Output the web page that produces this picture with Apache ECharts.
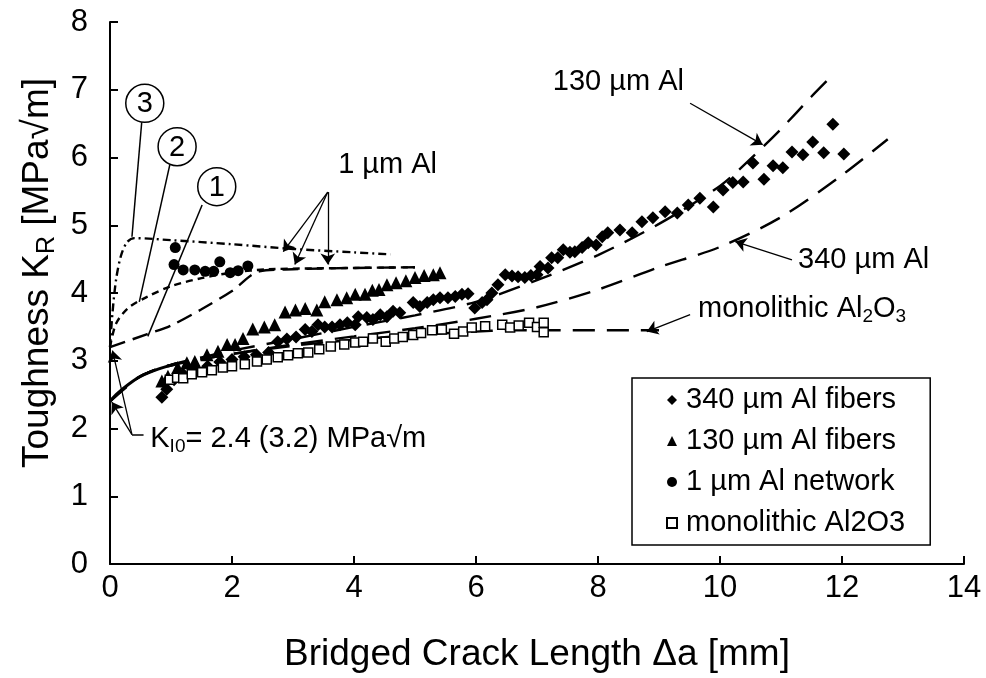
<!DOCTYPE html>
<html lang="en">
<head>
    <meta charset="UTF-8">
    <title>R-curves</title>
    <script src="https://cdn.jsdelivr.net/npm/echarts@6/dist/echarts.min.js"></script>
    <style>body { margin: 0; background: #fff; }</style>
</head>
<body>
    <div id="main" style="width: 986px; height: 678px;"></div>

    <script type="text/javascript">
        // axis ticks
        let xTicks = [0, 14, 2]
        let yTicks = [0, 8, 1]

        // measured points
        let fibers340 = [[0.85,2.46],[0.93,2.58],[1.05,2.72],[1.2,2.8],[1.4,2.86],[1.6,2.92],[1.8,2.98],[2.0,3.02],[2.2,3.06],[2.4,3.09],[2.6,3.12],[2.75,3.28],[2.9,3.32],[3.05,3.35],[3.2,3.46],[3.31,3.43],[3.41,3.53],[3.52,3.5],[3.64,3.5],[3.77,3.53],[3.89,3.56],[4.02,3.53],[4.07,3.65],[4.21,3.64],[4.31,3.61],[4.43,3.68],[4.54,3.65],[4.64,3.73],[4.75,3.71],[4.97,3.86],[5.08,3.8],[5.2,3.86],[5.3,3.9],[5.41,3.93],[5.54,3.93],[5.66,3.95],[5.77,3.98],[5.87,3.99],[5.98,3.78],[6.1,3.86],[6.18,3.9],[6.26,4.0],[6.36,4.12],[6.48,4.27],[6.59,4.25],[6.69,4.24],[6.8,4.23],[6.9,4.26],[7.0,4.27],[7.05,4.39],[7.18,4.37],[7.24,4.52],[7.34,4.52],[7.43,4.64],[7.54,4.6],[7.62,4.61],[7.74,4.67],[7.84,4.74],[7.97,4.71],[8.07,4.83],[8.16,4.89],[8.36,4.93],[8.56,4.89],[8.72,5.05],[8.9,5.11],[9.1,5.2],[9.3,5.18],[9.48,5.3],[9.67,5.4],[9.89,5.27],[10.05,5.52],[10.21,5.63],[10.38,5.64],[10.54,5.92],[10.72,5.68],[10.87,5.88],[11.03,5.85],[11.18,6.08],[11.36,6.04],[11.52,6.23],[11.7,6.07],[11.85,6.49],[12.03,6.05]]
        let fibers130 = [[0.85,2.7],[0.95,2.77],[1.11,2.9],[1.26,2.97],[1.39,2.99],[1.59,3.09],[1.77,3.14],[1.92,3.24],[2.05,3.24],[2.18,3.33],[2.34,3.47],[2.53,3.5],[2.7,3.53],[2.87,3.72],[3.04,3.75],[3.2,3.77],[3.39,3.75],[3.52,3.87],[3.72,3.9],[3.88,3.93],[4.02,3.98],[4.18,3.98],[4.3,4.04],[4.41,4.05],[4.54,4.12],[4.69,4.15],[4.85,4.18],[5.0,4.23],[5.15,4.26],[5.3,4.27],[5.41,4.3]]
        let network1 = [[1.05,4.42],[1.07,4.67],[1.2,4.34],[1.39,4.34],[1.56,4.32],[1.7,4.32],[1.8,4.46],[1.97,4.3],[2.1,4.33],[2.26,4.4]]
        let monolithic = [[0.98,2.72],[1.1,2.75],[1.2,2.74],[1.34,2.8],[1.51,2.83],[1.67,2.86],[1.85,2.9],[2.0,2.92],[2.21,2.95],[2.41,2.99],[2.57,3.02],[2.75,3.05],[2.92,3.08],[3.08,3.11],[3.25,3.12],[3.43,3.17],[3.62,3.21],[3.84,3.24],[4.02,3.27],[4.15,3.28],[4.31,3.33],[4.52,3.28],[4.66,3.33],[4.8,3.35],[4.97,3.38],[5.1,3.41],[5.28,3.45],[5.44,3.46],[5.64,3.4],[5.79,3.43],[5.93,3.49],[6.15,3.51],[6.43,3.53],[6.56,3.49],[6.7,3.52],[6.87,3.56],[7.0,3.5],[7.11,3.56],[7.11,3.42]]

        // model curves
        let curveStart = [[0,2.4],[0.1,2.5],[0.3,2.65],[0.5,2.77],[0.8,2.88],[1.1,2.96]]
        let curve130 = [[0,2.4],[0.5,2.77],[1,2.94],[1.5,3.05],[2,3.15],[3,3.32],[4,3.5],[5,3.67],[6,3.87],[7,4.19],[8,4.56],[9,5.02],[10,5.58],[10.5,5.98],[11,6.42],[11.5,6.9],[11.85,7.22]]
        let curve340 = [[0,2.4],[0.5,2.77],[1,2.94],[1.5,3.02],[2,3.1],[3,3.24],[4,3.36],[5,3.48],[6,3.62],[7,3.79],[8,4.05],[9,4.38],[10,4.68],[11,5.12],[12,5.74],[12.75,6.27]]
        let curveMono = [[0,2.4],[0.5,2.77],[1,2.93],[2,3.1],[3,3.22],[4,3.31],[5,3.38],[6,3.43],[6.5,3.45],[9,3.45]]
        let curveNet1 = [[0,3.2],[0.6,3.39],[1,3.52],[1.5,3.76],[2,4.03],[2.45,4.32],[3,4.35],[4,4.37],[5,4.38]]
        let curveNet2 = [[0,3.2],[0.1,3.55],[0.3,3.78],[0.6,3.94],[1,4.1],[1.5,4.22],[2,4.3],[2.6,4.35],[4,4.37],[5,4.38]]
        let curveNet3 = [[0,3.2],[0.04,3.7],[0.1,4.2],[0.18,4.55],[0.28,4.75],[0.4,4.81],[1,4.78],[2,4.72],[3,4.65],[4,4.6],[4.6,4.57]]

        let font = 'Liberation Sans, Arial, sans-serif'

        // annotation arrows and leaders (data coords)
        let arrows = [
            [[9.51,6.8],[10.7,6.19]],
            [[11.18,4.49],[10.25,4.76]],
            [[9.51,3.68],[8.8,3.43]],
            [[3.57,5.49],[2.84,4.61]],
            [[3.57,5.49],[3.03,4.42]],
            [[3.57,5.49],[3.57,4.42]],
            [[0.36,1.91],[0.03,2.39]],
            [[0.36,1.91],[0.04,3.15]]
        ]
        let leaders = [
            [[0.52,6.52],[0.36,4.83]],
            [[0.98,5.89],[0.48,3.87]],
            [[1.51,5.3],[0.62,3.36]],
            [[0.36,1.91],[0.55,1.91]]
        ]

        let myChart = echarts.init(document.getElementById('main'))

        function dashed(name, data, dash, width) {
            return {
                name: name, type: 'line', data: data, smooth: 0.3,
                showSymbol: false, silent: true, z: 1,
                lineStyle: {color: '#000', width: width || 2.4, type: dash}
            }
        }

        function pts(name, data, symbol, size, filled) {
            return {
                name: name, type: 'scatter', data: data, symbol: symbol, symbolSize: size, z: 3,
                itemStyle: filled
                    ? {color: '#000', opacity: 1}
                    : {color: '#fff', borderColor: '#000', borderWidth: 1.5, opacity: 1}
            }
        }

        let options = {
            animation: false,
            textStyle: {fontFamily: font},
            grid: {left: 110, right: 22, top: 22, bottom: 113},
            xAxis: {
                type: 'value', min: xTicks[0], max: xTicks[1], interval: xTicks[2],
                name: 'Bridged Crack Length Δa [mm]', nameLocation: 'middle', nameGap: 72,
                nameTextStyle: {fontSize: 37, color: '#000', fontFamily: font},
                axisLine: {lineStyle: {color: '#000', width: 2}},
                axisTick: {inside: true, length: 8, lineStyle: {color: '#000', width: 2}},
                axisLabel: {fontSize: 31, color: '#000', margin: 9, fontFamily: font},
                splitLine: {show: false}
            },
            yAxis: {
                type: 'value', min: yTicks[0], max: yTicks[1], interval: yTicks[2],
                name: '{a|Toughness K}{s|R}{a| [MPa√m]}', nameLocation: 'middle', nameGap: 46,
                nameTextStyle: {
                    color: '#000', fontFamily: font, padding: [0, 0, 0, 40],
                    rich: {
                        a: {fontSize: 37, lineHeight: 44, color: '#000', fontFamily: font},
                        s: {fontSize: 25, lineHeight: 20, verticalAlign: 'bottom', color: '#000', fontFamily: font}
                    }
                },
                axisLine: {lineStyle: {color: '#000', width: 2}},
                axisTick: {inside: true, length: 8, lineStyle: {color: '#000', width: 2}},
                axisLabel: {fontSize: 31, color: '#000', margin: 22, fontFamily: font},
                splitLine: {show: false}
            },
            legend: {
                orient: 'vertical', left: 632, top: 378,
                data: ['340 µm Al fibers', '130 µm Al fibers', '1 µm Al network', 'monolithic Al2O3'],
                borderColor: '#000', borderWidth: 1.5, borderRadius: 0,
                padding: [7, 25, 7, 34], itemGap: 11, itemWidth: 10, itemHeight: 10,
                textStyle: {fontSize: 29, lineHeight: 30, color: '#000', fontFamily: font, padding: [0, 0, 0, 4]}
            },
            series: [
                {name: 'start', type: 'line', data: curveStart, smooth: 0.3, showSymbol: false, silent: true,
                 lineStyle: {color: '#000', width: 3}},
                dashed('130 µm Al', curve130, [22, 12]),
                dashed('340 µm Al', curve340, [22, 12]),
                dashed('monolithic', curveMono, [22, 12]),
                dashed('1 µm Al (1)', curveNet1, [16, 8]),
                dashed('1 µm Al (2)', curveNet2, [7, 5]),
                dashed('1 µm Al (3)', curveNet3, [8, 4, 2, 4]),
                pts('340 µm Al fibers', fibers340, 'diamond', 13, true),
                pts('130 µm Al fibers', fibers130, 'triangle', 13, true),
                pts('1 µm Al network', network1, 'circle', 11, true),
                pts('monolithic Al2O3', monolithic, 'rect', 9, false),
                {
                    name: 'arrows', type: 'line', data: [], silent: true,
                    markLine: {
                        silent: true, symbol: ['none', 'arrow'], symbolSize: 11,
                        label: {show: false},
                        lineStyle: {color: '#000', width: 1.3, type: 'solid'},
                        data: arrows.map(a => [{coord: a[0]}, {coord: a[1]}])
                    }
                },
                {
                    name: 'leaders', type: 'line', data: [], silent: true,
                    markLine: {
                        silent: true, symbol: ['none', 'none'],
                        label: {show: false},
                        lineStyle: {color: '#000', width: 1.5, type: 'solid'},
                        data: leaders.map(a => [{coord: a[0]}, {coord: a[1]}])
                    }
                }
            ]
        }

        myChart.setOption(options)

        // text annotations placed in data coords
        function px(p) {
            return myChart.convertToPixel({xAxisIndex: 0, yAxisIndex: 0}, p)
        }
        let sub = {
            a: {fontSize: 29, lineHeight: 34, fill: '#000', fontFamily: font},
            s: {fontSize: 19, lineHeight: 16, verticalAlign: 'bottom', fill: '#000', fontFamily: font}
        }
        function label(p, text) {
            let q = px(p)
            return {type: 'text', x: q[0], y: q[1], z: 10,
                    style: {text: text, rich: sub, fill: '#000', verticalAlign: 'middle', align: 'left'}}
        }
        function circled(p, n) {
            let q = px(p)
            return [
                {type: 'circle', shape: {cx: q[0], cy: q[1], r: 19}, z: 10,
                 style: {fill: '#fff', stroke: '#000', lineWidth: 1.5}},
                {type: 'text', x: q[0], y: q[1] + 1, z: 11,
                 style: {text: n, font: '29px ' + font, fill: '#000', align: 'center', verticalAlign: 'middle'}}
            ]
        }

        myChart.setOption({
            graphic: [
                label([7.26, 7.11], '{a|130 µm Al}'),
                label([11.28, 4.49], '{a|340 µm Al}'),
                label([9.64, 3.76], '{a|monolithic Al}{s|2}{a|O}{s|3}'),
                label([3.74, 5.89], '{a|1 µm Al}'),
                label([0.66, 1.84], '{a|K}{s|I0}{a|= 2.4 (3.2) MPa√m}'),
                ...circled([0.57, 6.8], '3'),
                ...circled([1.1, 6.16], '2'),
                ...circled([1.75, 5.57], '1')
            ]
        })
    </script>
</body>
</html>
